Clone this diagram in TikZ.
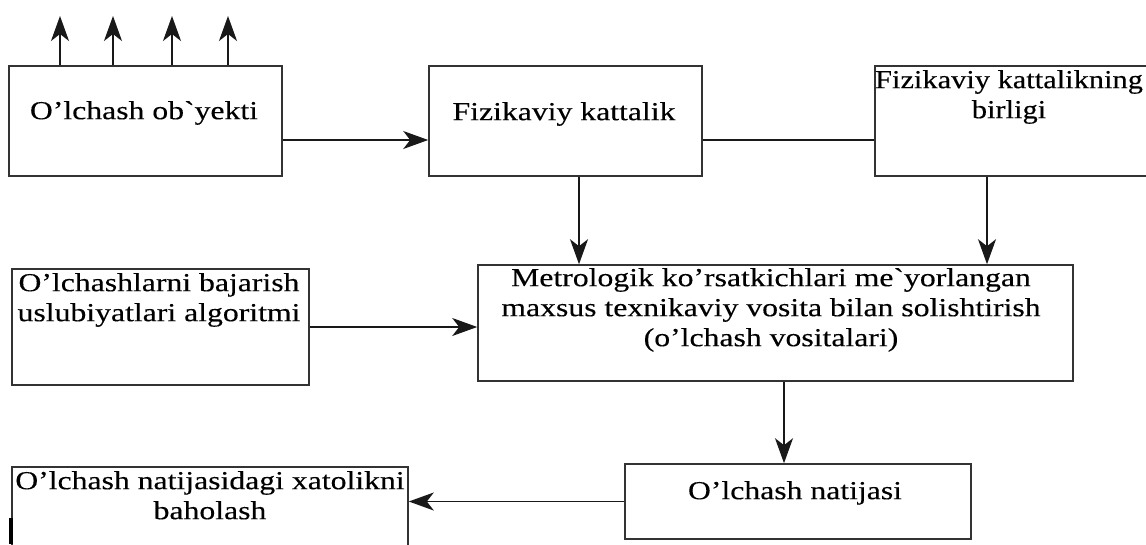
\documentclass[tikz,border=0pt]{standalone}
\usepackage{fontspec}
\setmainfont{Liberation Serif}[FakeStretch=1.22, FakeBold=0.3, Ligatures=TeXOff]
\newfontfamily\unitfont{Liberation Serif}[FakeStretch=1.17, FakeBold=0.3, Ligatures=TeXOff]
\usetikzlibrary{arrows.meta}

\tikzset{
  blk/.style={draw=black!80, line width=1.6pt, inner sep=0pt},
  lbl/.style={inner sep=0pt, align=center, anchor=north, font=\fontsize{26}{30}\selectfont},
  con/.style={draw=black!90, line width=1.6pt},
  arr/.style={con, -{Stealth[length=25pt,width=18pt,inset=7pt]}},
}

\begin{document}
\begin{tikzpicture}[x=1pt,y=-1pt]
\clip (0,0) rectangle (1146,544);

% blocks
\node[blk, minimum width=273pt, minimum height=110pt] (obj)   at (145.5,121) {};
\node[blk, minimum width=273pt, minimum height=110pt] (fk)    at (565.5,121) {};
\node[blk, minimum width=275pt, minimum height=110pt] (unit)  at (1012.5,121) {};
\node[blk, minimum width=297pt, minimum height=116pt] (alg)   at (160.5,327) {};
\node[blk, minimum width=595pt, minimum height=116pt] (metro) at (775.5,323) {};
\node[blk, minimum width=346pt, minimum height=75pt]  (res)   at (798,501.5) {};
\node[blk, minimum width=396pt, minimum height=110pt] (err)   at (210,522) {};

% block labels
\node[lbl] (tobj) at (144,98) {\strut O’lchash ob`yekti};
\node[lbl] (tfk) at (564,99) {\strut Fizikaviy kattalik};
\node[lbl, font=\unitfont\fontsize{26}{30}\selectfont] (tunit) at (1009,67)
  {\strut Fizikaviy kattalikning\\birligi};
\node[lbl] (talg) at (159,270) {\strut O’lchashlarni bajarish\\uslubiyatlari algoritmi};
\node[lbl] (tmetro) at (771,265)
  {\strut Metrologik ko’rsatkichlari me`yorlangan\\maxsus texnikaviy vosita bilan solishtirish\\(o’lchash vositalari)};
\node[lbl] (tres) at (795,478) {\strut O’lchash natijasi};
\node[lbl] (terr) at (210,468) {\strut O’lchash natijasidagi xatolikni\\baholash};

% outputs of the object
\coordinate (t1) at (60,16);
\coordinate (t2) at (113,16);
\coordinate (t3) at (172,16);
\coordinate (t4) at (228,16);
\foreach \t in {t1,t2,t3,t4}
  \draw[arr] (obj.north -| \t) -- (\t);

% connectors
\draw[arr] ([yshift=-19pt]obj.east) -- ([yshift=-19pt]fk.west);
\draw[con] ([yshift=-19pt]fk.east) -- ([yshift=-19pt]unit.west);
\draw[arr] ([xshift=13.5pt]fk.south) -- ([xshift=13.5pt]fk.south |- metro.north);
\draw[arr] ([xshift=-25.5pt]unit.south) -- ([xshift=-25.5pt]unit.south |- metro.north);
\draw[arr] (alg.east) -- (alg.east -| metro.west);
\draw[arr] ([xshift=8.5pt]metro.south) -- ([xshift=8.5pt]metro.south |- res.north);
\draw[arr] (res.west) -- (res.west -| err.east);

% heavy mark at the lower left edge
\fill[black] (9,518) rectangle (13,544);
\end{tikzpicture}
\end{document}
